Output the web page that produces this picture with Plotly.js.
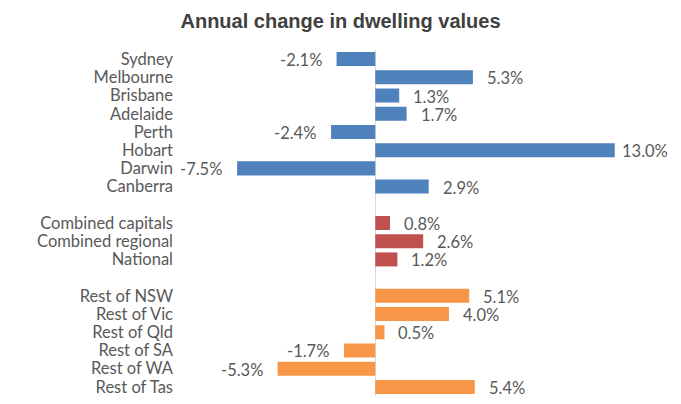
<!DOCTYPE html>
<html>
<head>
<meta charset="utf-8">
<script src="https://cdn.plot.ly/plotly-3.0.1.min.js"></script>
<style>html,body{margin:0;padding:0;background:#fff;}#chart{width:681px;height:404px;}</style>
</head>
<body>
<div id="chart"></div>
<script>
var capitals = ["Sydney","Melbourne","Brisbane","Adelaide","Perth","Hobart","Darwin","Canberra"];
var capitalValues = [-2.1, 5.3, 1.3, 1.7, -2.4, 13.0, -7.5, 2.9];
var aggregates = ["Combined capitals","Combined regional","National"];
var aggregateValues = [0.8, 2.6, 1.2];
var regions = ["Rest of NSW","Rest of Vic","Rest of Qld","Rest of SA","Rest of WA","Rest of Tas"];
var regionValues = [5.1, 4.0, 0.5, -1.7, -5.3, 5.4];

var groups = [
  {names: capitals, values: capitalValues, color: "#4F81BD"},
  {names: aggregates, values: aggregateValues, color: "#C0504D"},
  {names: regions, values: regionValues, color: "#F79646"}
];

var xMax = 16.0;
var traces = [], tickvals = [], ticktext = [], annotations = [];
var row = 0;
groups.forEach(function(g){
  var ys = [];
  g.names.forEach(function(n, i){
    ys.push(row);
    tickvals.push(row);
    ticktext.push(n);
    var v = g.values[i];
    // labels that would run past the plot edge get pulled closer to the bar
    var shift = v >= 0 ? (v > xMax - 3.2 ? 5 : 12) : -13;
    annotations.push({
      x: v, y: row, xref: "x", yref: "y",
      text: v.toFixed(1) + "%",
      showarrow: false,
      xanchor: v >= 0 ? "left" : "right",
      xshift: shift,
      yshift: -1,
      font: {family: "Lato, 'Noto Sans', sans-serif", size: 16.5, color: "#595959"}
    });
    row++;
  });
  row++;
  traces.push({
    type: "bar", orientation: "h",
    x: g.values, y: ys,
    width: 0.77,
    marker: {color: g.color},
    hoverinfo: "none"
  });
});

var layout = {
  width: 681, height: 404,
  margin: {l: 180, r: 11, t: 50, b: 8},
  paper_bgcolor: "#fff", plot_bgcolor: "#fff",
  showlegend: false,
  title: {text: "<b>Annual change in dwelling values</b>", x: 0.5, xanchor: "center", y: 0.948, yanchor: "middle",
          font: {family: "'Liberation Sans', Arial, sans-serif", size: 20, color: "#404040"}},
  xaxis: {range: [-10.6, xMax], showgrid: false, showticklabels: false, zeroline: true,
          zerolinecolor: "#d9d9d9", zerolinewidth: 1.5, showline: false, fixedrange: true},
  yaxis: {range: [18.5, -0.5], tickvals: tickvals, ticktext: ticktext, showgrid: false, zeroline: false,
          showline: false, ticks: "", ticklabelstandoff: 6,
          tickfont: {family: "Lato, 'Noto Sans', sans-serif", size: 16.5, color: "#595959"}, fixedrange: true},
  annotations: annotations
};

Plotly.newPlot("chart", traces, layout, {displayModeBar: false, staticPlot: true});
</script>
</body>
</html>
